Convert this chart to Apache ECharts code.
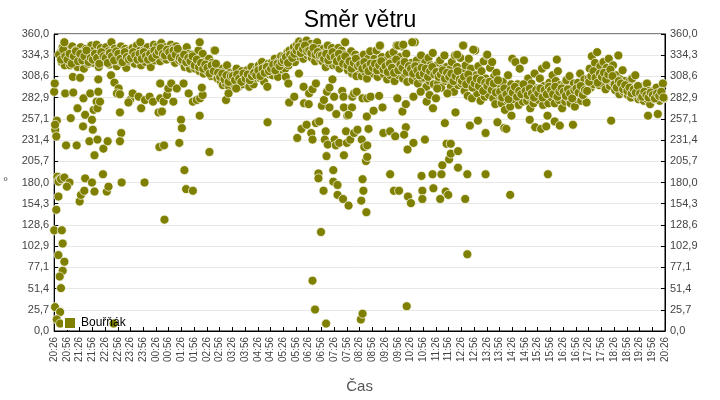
<!DOCTYPE html>
<html>
<head>
<meta charset="utf-8">
<title>Směr větru</title>
<script src="https://cdn.jsdelivr.net/npm/echarts@6/dist/echarts.min.js"></script>
<style>
html, body { margin: 0; padding: 0; background: #fff; }
#chart { width: 720px; height: 400px; }
</style>
</head>
<body>
<div id="chart"></div>
<script>
// popisky casove osy (po 30 min)
var timeLabels = ["20:26","20:56","21:26","21:56","22:26","22:56","23:26","23:56","00:26","00:56",
  "01:26","01:56","02:26","02:56","03:26","03:56","04:26","04:56","05:26","05:56",
  "06:26","06:56","07:26","07:56","08:26","08:56","09:26","09:56","10:26","10:56",
  "11:26","11:56","12:26","12:56","13:26","13:56","14:26","14:56","15:26","15:56",
  "16:26","16:56","17:26","17:56","18:26","18:56","19:26","19:56","20:26"];

var seriesName = "Bouřňák";
var stepA = 2.5;  // minut mezi vzorky pasu A
var stepB = 5;    // minut mezi vzorky pasu B
var offsetB = 1.25;

// hlavni pas smeru vetru A, 12 vzorku na kazdou pulhodinu
var band1 = [
  290,244,236,187,163,184,338,326,344,331,322,340,
  335,341,328,322,338,345,330,326,340,334,320,337,
  331,344,327,338,318,336,342,329,324,339,333,346,
  337,325,341,332,347,328,320,335,343,330,338,326,
  334,344,329,339,323,336,350,331,327,342,335,321,
  328,339,333,345,325,337,330,342,319,334,340,327,
  336,329,343,331,324,338,346,333,327,340,322,335,
  332,341,326,337,344,329,335,320,339,331,347,328,
  338,345,333,340,327,349,336,342,331,344,329,339,
  341,334,347,330,343,337,325,345,332,339,328,336,
  333,326,339,320,331,344,323,336,318,329,335,322,
  327,318,333,324,340,315,329,321,336,312,326,319
];
var band2 = [
  322,314,330,318,309,325,316,340,311,320,306,317,
  311,303,318,298,309,315,300,322,306,296,313,304,
  305,312,298,308,318,301,296,310,303,315,299,307,
  309,302,316,306,296,312,320,304,299,314,307,318,
  313,322,307,318,326,310,302,320,315,296,324,311,
  316,325,310,320,330,314,322,308,327,319,333,317,
  324,333,318,329,338,322,340,327,335,330,344,326,
  338,347,333,351,342,336,349,330,345,339,352,334,
  343,336,348,331,340,345,327,338,350,333,342,329,
  337,327,342,332,320,339,346,325,335,330,343,322,
  329,338,322,334,343,318,331,340,325,335,350,321,
  326,316,333,322,339,312,328,319,335,309,324,331
];
var band3 = [
  318,327,309,322,335,314,325,306,330,317,339,320,
  323,312,330,318,340,308,326,345,315,332,320,311,
  316,328,305,321,335,310,326,318,338,303,324,346,
  320,310,332,316,345,306,327,312,336,302,322,318,
  313,325,304,318,350,309,328,300,321,314,334,306,
  318,307,326,296,314,331,303,322,310,337,299,316,
  311,322,300,315,328,295,318,306,334,303,320,309,
  305,317,296,326,310,290,334,302,320,298,313,331,
  300,314,346,291,322,306,285,330,298,318,282,309,
  296,340,310,288,321,303,279,315,293,327,284,306,
  334,301,286,319,294,326,282,309,275,313,290,298,
  285,296,276,302,289,268,293,280,310,286,272,299
];
var band4 = [
  330,292,281,326,287,299,274,318,284,293,278,328,
  287,295,279,306,284,270,300,290,276,312,282,294,
  292,280,306,286,318,274,297,284,322,289,276,301,
  295,283,310,288,276,303,291,315,280,298,286,270,
  286,298,278,304,291,282,309,276,294,285,300,272,
  293,281,301,288,312,279,296,285,305,290,277,299,
  306,318,295,333,310,299,325,304,338,313,298,321,
  312,300,326,307,293,319,304,330,297,315,302,322,
  301,292,310,297,334,287,305,294,316,290,303,296,
  294,286,302,290,283,306,292,287,310,285,296,281,
  289,283,296,286,279,292,285,300,280,291,275,288,
  285,291,281,289,295,283,287,279,290,284,300,282
];

// pas B, 6 vzorku na pulhodinu (posunute o 1,25 min)
var bandB1 = [
  300,255,335,329,341,333,
  329,336,324,333,339,327,
  336,328,333,340,326,331,
  329,336,331,324,338,333,
  331,325,337,333,328,339,
  336,330,326,338,332,329,
  331,338,334,329,336,330,
  338,333,329,336,331,340,
  335,339,343,336,334,341,
  338,332,340,335,342,331,
  329,335,326,331,327,333,
  322,329,320,325,318,323,
  319,312,322,315,324,313,
  308,312,305,310,302,309,
  309,304,311,306,302,312,
  306,311,304,309,313,310,
  316,309,318,313,320,315,
  318,323,316,324,321,326,
  328,332,325,335,331,336,
  340,344,337,342,346,339,
  340,337,343,335,338,334,
  334,330,336,328,333,338,
  332,327,336,330,324,333,
  322,327,318,325,330,321
];
var bandB2 = [
  323,318,326,320,315,324,
  319,324,316,322,327,317,
  321,314,324,319,313,329,
  316,323,319,326,314,321,
  318,312,321,316,310,319,
  312,318,308,315,320,311,
  314,308,311,316,306,313,
  308,312,303,309,315,305,
  303,308,299,311,304,295,
  300,306,297,304,291,301,
  297,302,292,300,289,304,
  290,283,294,287,281,292,
  289,296,284,291,287,299,
  291,286,294,288,283,292,
  288,294,283,292,287,296,
  292,287,296,284,290,294,
  290,285,293,288,282,292,
  294,289,297,286,292,291,
  302,309,315,307,301,312,
  308,313,305,311,317,309,
  299,295,303,300,293,298,
  291,295,288,293,289,297,
  288,284,290,286,283,289,
  286,282,288,285,290,283
];

// odlehle body: minuta od 20:26 a smer
var outMin = [
  26,45,44,61,2,28,53,39,55,68,69,73,85,89,91,83,95,102,93,100,102,108,104,104,116,126,134,142,152,148,
  155,155,158,155,179,175,185,199,205,214,225,233,250,250,246,254,248,259,258,266,269,276,281,289,299,301,295,305,317,327,
  336,344,350,348,343,366,405,411,429,10,16,24,36,30,5,0,18,20,10,24,20,13,16,2,14,6,14,60,63,71,
  73,89,95,115,124,128,140,159,213,260,307,311,327,24,203,343,379,
  503,546,552,554,566,577,589,588,601,609,617,600,573,583,595,606,609,617,625,623,623,629,609,615,641,635,631,636,643,649,
  656,649,640,638,645,642,658,658,668,668,681,694,661,664,672,665,660,679,682,683,691,683,688,690,698,707,715,703,707,713,
  702,694,725,731,738,735,738,727,729,724,736,723,727,737,741,727,738,746,753,766,774,776,792,804,792,801,813,809,821,829,
  829,825,833,847,834,841,831,847,864,874,866,868,868,878,885,892,894,893,900,903,910,913,915,921,923,929,931,935,925,935,
  946,952,952,927,844,768,811,823,686,950,
  964,988,1021,974,969,974,1017,1075,1164,980,1017,999,1045,1061,1066,1078,1121,1134,1148,1160,1180,1192,1223,1163,1313,1400,1423,1185
];
var outDeg = [
  288,289,308,307,250,225,225,258,270,248,282,262,288,256,244,230,213,232,268,278,270,278,290,305,221,230,310,301,294,288,
  287,265,240,230,280,277,288,284,270,280,284,278,300,282,265,266,223,225,278,286,294,300,278,294,256,246,228,300,288,278,
  280,282,286,295,261,217,280,288,294,181,184,186,180,175,147,122,122,106,92,84,73,66,52,29,23,14,9,157,165,170,
  185,180,169,190,169,175,9,180,180,135,195,172,170,350,350,350,340,
  253,308,300,277,284,312,276,296,288,293,300,275,234,245,250,240,232,252,254,191,185,120,61,26,9,170,273,280,290,295,
  305,271,242,232,226,212,195,181,177,165,160,152,232,225,228,263,284,291,284,271,261,213,242,228,232,240,244,284,288,290,
  271,262,232,223,225,206,211,184,170,158,144,14,21,260,245,282,282,284,267,285,271,240,242,236,190,170,170,282,266,275,
  247,238,220,228,163,155,30,284,290,232,188,170,160,278,286,190,173,270,282,294,160,190,201,252,169,165,208,215,227,227,
  265,218,198,288,350,346,346,347,350,335,
  346,341,335,190,160,93,190,165,190,249,240,255,253,246,245,261,256,247,245,248,254,249,250,261,255,261,263,329
];

// sestaveni bodu [minuta, stupne]
var points = [];
[band1, band2, band3, band4].forEach(function (arr, b) {
  arr.forEach(function (v, i) {
    points.push([(b * arr.length + i) * stepA, v]);
  });
});
[bandB1, bandB2].forEach(function (arr, b) {
  arr.forEach(function (v, i) {
    points.push([(b * arr.length + i) * stepB + offsetB, v]);
  });
});
outMin.forEach(function (m, i) {
  points.push([m, outDeg[i]]);
});

function degLabel(v) {
  return v.toFixed(1).replace(".", ",");
}

var yCommon = {
  type: "value",
  min: 0,
  max: 360,
  interval: 360 / 14,
  axisLine: { show: true, lineStyle: { color: "#000", width: 1 } },
  axisTick: { show: true, inside: true, length: 4, lineStyle: { color: "#000" } },
  axisLabel: {
    formatter: degLabel,
    color: "#444",
    fontSize: 11,
    fontFamily: "Liberation Sans",
    margin: 5
  }
};

var chart = echarts.init(document.getElementById("chart"), null, { renderer: "canvas" });
chart.setOption({
  animation: false,
  backgroundColor: "#fff",
  title: {
    text: "Směr větru",
    left: "center",
    top: 4,
    textStyle: { fontSize: 23, fontWeight: "normal", color: "#000", fontFamily: "Liberation Sans" }
  },
  legend: {
    data: [seriesName],
    left: 58,
    top: 311,
    icon: "rect",
    itemWidth: 12,
    itemHeight: 12,
    itemGap: 6,
    textStyle: { fontSize: 12, color: "#000", fontFamily: "Liberation Sans" }
  },
  grid: {
    left: 54,
    right: 55,
    top: 34,
    bottom: 69,
    show: true,
    borderColor: "#000",
    borderWidth: 1
  },
  xAxis: {
    type: "value",
    min: 0,
    max: 1440,
    interval: 30,
    name: "Čas",
    nameLocation: "middle",
    nameGap: 48,
    nameTextStyle: { fontSize: 15, color: "#555", fontFamily: "Liberation Sans" },
    axisLine: { show: true, lineStyle: { color: "#000", width: 1 } },
    axisTick: { show: true, inside: true, length: 4, lineStyle: { color: "#000" } },
    splitLine: { show: false },
    axisLabel: {
      rotate: 90,
      fontSize: 10,
      color: "#444",
      fontFamily: "Liberation Sans",
      margin: 6,
      showMinLabel: true,
      showMaxLabel: true,
      formatter: function (v) { return timeLabels[Math.round(v / 30)]; }
    }
  },
  yAxis: [
    Object.assign({}, yCommon, {
      position: "left",
      name: "°",
      nameLocation: "middle",
      nameGap: 46,
      nameRotate: 0,
      nameTextStyle: { fontSize: 13, color: "#555" },
      splitLine: { show: true, lineStyle: { color: "#e8e8e8", width: 1 } }
    }),
    Object.assign({}, yCommon, {
      position: "right",
      splitLine: { show: false }
    })
  ],
  series: [
    {
      name: seriesName,
      type: "scatter",
      yAxisIndex: 0,
      symbol: "circle",
      symbolSize: 9,
      itemStyle: { color: "#808000", borderColor: "#fff", borderWidth: 0.7, opacity: 1 },
      data: points
    }
  ]
});
</script>
</body>
</html>
